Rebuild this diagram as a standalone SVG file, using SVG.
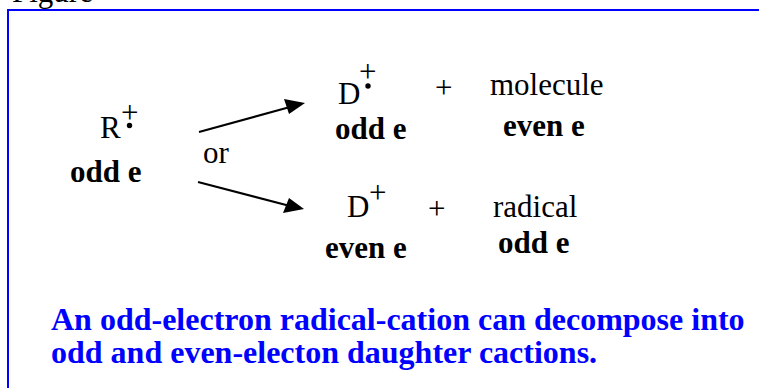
<svg xmlns="http://www.w3.org/2000/svg" width="759" height="388" viewBox="0 0 759 388">
<style>
.t{font-family:"Liberation Serif","Times New Roman",serif;fill:#000;font-size:31px}
.b{font-weight:bold}
.cap{font-family:"Liberation Serif","Times New Roman",serif;font-weight:bold;font-size:32px;fill:#0000ff}
</style>
<rect width="759" height="388" fill="#fff"/>
<text class="t" x="12" y="2" font-size="22">Figure</text>
<rect x="8" y="10" width="800" height="420" fill="none" stroke="#0000ff" stroke-width="2"/>
<g id="reactant">
<text class="t" x="100" y="138">R</text>
<text class="t" x="121" y="122.5" font-size="27">+</text>
<circle cx="129.5" cy="125.5" r="2.7" fill="#000"/>
<text class="t b" x="70" y="182">odd e</text>
</g>
<g id="or"><text class="t" x="203" y="163">or</text></g>
<g id="prod1">
<text class="t" x="338" y="104">D</text>
<text class="t" x="359" y="82" font-size="27">+</text>
<circle cx="368" cy="86" r="2.7" fill="#000"/>
<text class="t b" x="335" y="139">odd e</text>
</g>
<g id="plus1"><text class="t" x="435" y="97.5" font-size="32">+</text></g>
<g id="molecule">
<text class="t" x="490" y="95">molecule</text>
<text class="t b" x="503" y="136">even e</text>
</g>
<g id="prod2">
<text class="t" x="347" y="217">D</text>
<text class="t" x="369" y="202.5" font-size="20">+</text>
<text class="t b" x="325" y="258">even e</text>
</g>
<g id="plus2"><text class="t" x="428" y="218.5" font-size="32">+</text></g>
<g id="radical">
<text class="t" x="493" y="217">radical</text>
<text class="t b" x="498" y="253">odd e</text>
</g>
<g id="connectors">
<path d="M199,132 L290,107" stroke="#000" stroke-width="2" fill="none"/>
<path d="M284,99 L305,103 L289,114 Z" fill="#000"/>
<path d="M198,182 L290,206" stroke="#000" stroke-width="2" fill="none"/>
<path d="M289,198 L304,209 L283,213 Z" fill="#000"/>
</g>
<g id="caption">
<text class="cap" x="51" y="330">An odd-electron radical-cation can decompose into</text>
<text class="cap" x="51" y="363">odd and even-electon daughter cactions.</text>
</g>
</svg>
